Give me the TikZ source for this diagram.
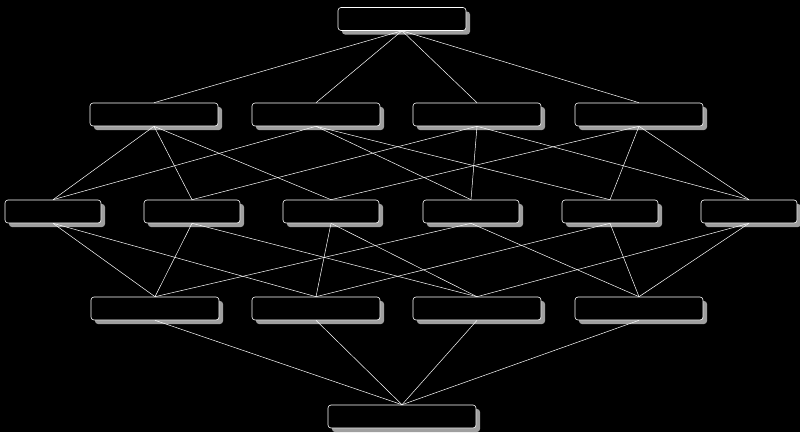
\documentclass[tikz,border=0pt]{standalone}
\usetikzlibrary{shadows}
\begin{document}
\begin{tikzpicture}[x=1pt,y=-1pt,
  box/.style={draw=white,line width=0.6pt,fill=black,rounded corners=3pt,minimum height=23pt,inner sep=0pt,
    drop shadow={shadow xshift=4pt,shadow yshift=-4pt,fill=gray!75,opacity=1}},
  wide/.style={box,minimum width=128pt},
  mid/.style={box,minimum width=96pt},
  edge/.style={draw=white,line width=0.5pt}]
\fill[black] (0,0) rectangle (800,432);
\useasboundingbox (0,0) rectangle (800,432);
% edges first
\coordinate (T) at (402,30);
\coordinate (B) at (402,405);
\foreach \x in {154,316,477,639} \coordinate (a\x) at (\x,103);
\node[box,minimum width=128pt] (top) at (402,19) {};
\node[wide] (r11) at (154,114.5) {};
\node[wide] (r12) at (316,114.5) {};
\node[wide] (r13) at (477,114.5) {};
\node[wide] (r14) at (639,114.5) {};
\node[mid] (r21) at (53,211.5) {};
\node[mid] (r22) at (192,211.5) {};
\node[mid] (r23) at (331,211.5) {};
\node[mid] (r24) at (471,211.5) {};
\node[mid] (r25) at (610,211.5) {};
\node[mid] (r26) at (749,211.5) {};
\node[wide] (r31) at (155,308.5) {};
\node[wide] (r32) at (316,308.5) {};
\node[wide] (r33) at (477,308.5) {};
\node[wide] (r34) at (639,308.5) {};
\node[box,minimum width=148pt] (bot) at (402,416.5) {};
\begin{scope}
\foreach \n in {r11,r12,r13,r14} \draw[edge] (top.south) -- (\n.north);
\foreach \a/\b in {r11/r21,r11/r22,r11/r23,r12/r21,r12/r24,r12/r25,r13/r22,r13/r24,r13/r26,r14/r23,r14/r25,r14/r26}
  \draw[edge] (\a.south) -- (\b.north);
\foreach \a/\b in {r21/r31,r21/r32,r22/r31,r22/r33,r23/r32,r23/r33,r24/r31,r24/r34,r25/r32,r25/r34,r26/r33,r26/r34}
  \draw[edge] (\a.south) -- (\b.north);
\foreach \n in {r31,r32,r33,r34} \draw[edge] (\n.south) -- (bot.north);
\end{scope}
\end{tikzpicture}
\end{document}
